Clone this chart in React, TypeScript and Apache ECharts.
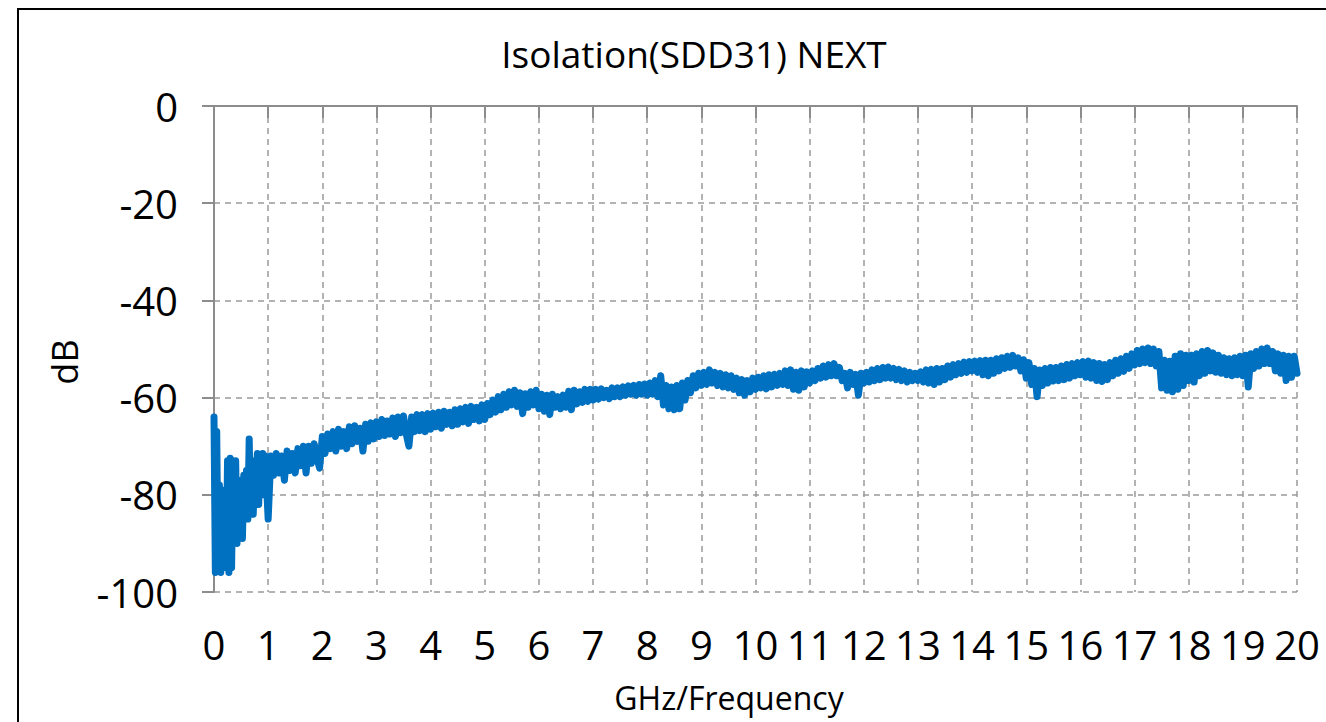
import React, { useEffect, useRef } from "react";
import * as echarts from "echarts";

// Frequency axis range (GHz) and dB range
const xTicks = [0, 20];
const yTicks = [-100, 0];

// 0–1 GHz region, sampled every 0.025 GHz (dB)
const lowStart = 0;
const lowStep = 0.025;
const lowBand = [
  -64, -96, -67, -95, -78, -96, -80, -93, -79, -95,
  -73, -96, -72.5, -95, -74, -88, -73, -90, -78, -85,
  -77, -89, -76, -83, -75, -85, -68.5, -84, -74, -84,
  -73, -82, -71.5, -82, -72, -80, -71.5, -80, -72, -79,
];

// 1–20 GHz region, sampled every 0.05 GHz (dB), one row per 0.5 GHz
const mainStart = 1;
const mainStep = 0.05;
const mainBand = [
  -85, -72, -76, -71.5, -75.5, -72, -77, -71, -75, -71.5,
  -75.5, -70.5, -74, -70, -75.5, -70, -73.5, -69.5, -72.5, -74.5,
  -68, -71.5, -67.5, -70.5, -67, -71, -66.5, -70, -67, -70.5,
  -66, -69.5, -65.8, -69, -66.3, -71, -65.5, -69, -65.2, -68.5,
  -65, -68, -64.5, -67.8, -64.8, -67.5, -64.2, -68, -64, -67.2,
  -63.8, -67.5, -70, -64, -67, -63.5, -66.8, -63.5, -67, -63.3,
  -66.5, -63.2, -66, -63, -66.3, -62.8, -65.5, -63, -65.8, -62.5,
  -65.5, -62.3, -65, -62, -65.3, -61.8, -64.5, -62, -64.8, -61.5,
  -64.5, -61.2, -63.5, -60.5, -63, -59.8, -62.5, -59.3, -62, -58.8,
  -61.5, -58.5, -61.8, -59, -63.3, -59.2, -62, -58.8, -61.5, -58.5,
  -62.3, -59.3, -62.8, -59.5, -63.5, -59.3, -62, -59.8, -62.3, -59.5,
  -62, -58.7, -62.5, -58.5, -61.3, -58.8, -61, -58.3, -60.8, -58.3,
  -60.5, -58.3, -60.3, -58.2, -60, -58.5, -60.2, -58, -59.8, -58,
  -59.8, -57.8, -59.5, -57.6, -59.3, -57.5, -59.5, -57.3, -59.3, -57.2,
  -59.5, -57, -59.3, -56.5, -59.8, -55.5, -61.5, -57.5, -62.3, -57.8,
  -62.5, -57.5, -62.3, -57, -60.5, -56.5, -59, -55.5, -58, -55,
  -57.5, -54.8, -57.3, -54.3, -57, -54.8, -57.5, -55, -57.8, -55.3,
  -58, -55.5, -58.3, -56, -59, -56.3, -59.5, -56.5, -58.8, -56,
  -58.3, -55.8, -58, -55.5, -58.2, -55.3, -57.8, -55.2, -57.5, -55,
  -57.3, -54.5, -57.5, -54.3, -58.3, -54.8, -58.5, -54.5, -57.8, -54.7,
  -57, -54.5, -56.5, -54, -56, -53.5, -55.8, -53.2, -55.5, -53,
  -55.5, -53.8, -56.5, -55, -58, -54.8, -57.3, -55.2, -59.5, -55,
  -57, -54.8, -56.8, -54.3, -56.5, -54, -56.3, -53.8, -56, -53.7,
  -56, -54, -56.3, -54.2, -56.5, -54.5, -56.8, -54.8, -56.5, -55,
  -56.5, -54.7, -56.8, -54.3, -57, -54.2, -57.3, -54, -56.8, -54,
  -56.3, -53.5, -55.8, -53.2, -55.3, -53, -55, -52.7, -54.8, -52.6,
  -54.5, -52.5, -54.8, -52.4, -55.3, -52.3, -55.5, -52.3, -55, -52,
  -54.5, -51.8, -54, -51.5, -53.8, -51.3, -53.5, -51.8, -54.5, -52.2,
  -56, -52.8, -57.3, -54, -59.8, -54.3, -57.5, -54, -57, -53.8,
  -56.6, -53.8, -56.5, -53.5, -56.3, -53.2, -56, -53, -55.5, -52.8,
  -55.3, -52.6, -55.8, -52.5, -56, -52.8, -56.5, -53, -56.7, -53.2,
  -56.3, -52.8, -55.5, -52.3, -55, -52, -54.6, -51.5, -54, -51,
  -53.3, -50.3, -53, -50, -52.8, -49.8, -53, -50, -53.5, -50.5,
  -58, -52.3, -58.5, -52.5, -58.8, -51.5, -58.3, -51, -57.5, -51.3,
  -56.5, -51.3, -56.8, -51, -55.5, -50.5, -55, -50.3, -54.5, -50.8,
  -54.8, -51.3, -55, -51.8, -55.3, -52, -55.5, -51.8, -55.3, -51.5,
  -55.5, -51.3, -57.8, -51, -54, -50.5, -53.5, -50, -53, -49.8,
  -53, -50.5, -54.5, -51, -55, -51.3, -56.5, -51.5, -55.8, -51.5,
  -55,
];

const title = "Isolation(SDD31) NEXT";
const xName = "GHz/Frequency";
const yName = "dB";

export default function App() {
  const ref = useRef<HTMLDivElement>(null);
  useEffect(() => {
    if (!ref.current) return;
    const chart = echarts.init(ref.current, null, { renderer: "svg" });
    const points: number[][] = [];
    lowBand.forEach((v, i) => points.push([+(lowStart + i * lowStep).toFixed(3), v]));
    mainBand.forEach((v, i) => points.push([+(mainStart + i * mainStep).toFixed(3), v]));
    const font = "'Open Sans', 'Noto Sans', sans-serif";
    chart.setOption({
      animation: false,
      backgroundColor: "#ffffff",
      title: {
        text: title,
        left: 689,
        top: 30,
        textAlign: "center",
        textStyle: { fontFamily: font, fontSize: 37, fontWeight: "normal", color: "#000" },
      },
      grid: { left: 214, right: 29, top: 106, bottom: 130, containLabel: false },
      xAxis: {
        type: "value",
        min: xTicks[0],
        max: xTicks[1],
        interval: 1,
        axisLine: { show: true, lineStyle: { color: "#8c8c8c", width: 2 } },
        axisTick: { show: true, inside: false, length: 12, lineStyle: { color: "#8c8c8c", width: 2 } },
        axisLabel: { margin: 32, fontFamily: font, fontSize: 40, color: "#000" },
        splitLine: { show: true, lineStyle: { color: "#9a9a9a", width: 1.5, type: [6, 5] } },
      },
      yAxis: {
        type: "value",
        min: yTicks[0],
        max: yTicks[1],
        interval: 20,
        axisLine: { show: true, lineStyle: { color: "#8c8c8c", width: 2 } },
        axisTick: { show: true, inside: false, length: 12, lineStyle: { color: "#8c8c8c", width: 2 } },
        axisLabel: { margin: 36, fontFamily: font, fontSize: 40, color: "#000" },
        splitLine: { show: true, lineStyle: { color: "#9a9a9a", width: 1.5, type: [6, 5] } },
      },
      graphic: [
        {
          type: "rect",
          shape: { x: 18, y: 9, width: 1330, height: 730 },
          style: { fill: "none", stroke: "#000", lineWidth: 2 },
          silent: true,
        },
        {
          type: "text",
          x: 729,
          y: 697,
          style: {
            text: xName,
            fontFamily: font,
            fontSize: 32,
            fill: "#000",
            textAlign: "center",
            textVerticalAlign: "middle",
          },
        },
        {
          type: "text",
          x: 64,
          y: 362,
          rotation: Math.PI / 2,
          style: {
            text: yName,
            fontFamily: font,
            fontSize: 36,
            fill: "#000",
            textAlign: "center",
            textVerticalAlign: "middle",
          },
        },
      ],
      series: [
        {
          type: "line",
          data: points,
          showSymbol: false,
          smooth: false,
          lineStyle: { color: "#0070C0", width: 7, join: "round", cap: "round" },
          itemStyle: { color: "#0070C0" },
        },
      ],
    });
    return () => chart.dispose();
  }, []);
  return (
    <div
      ref={ref}
      style={{ position: "fixed", left: 0, top: 0, width: 1326, height: 722, background: "#fff" }}
    />
  );
}
